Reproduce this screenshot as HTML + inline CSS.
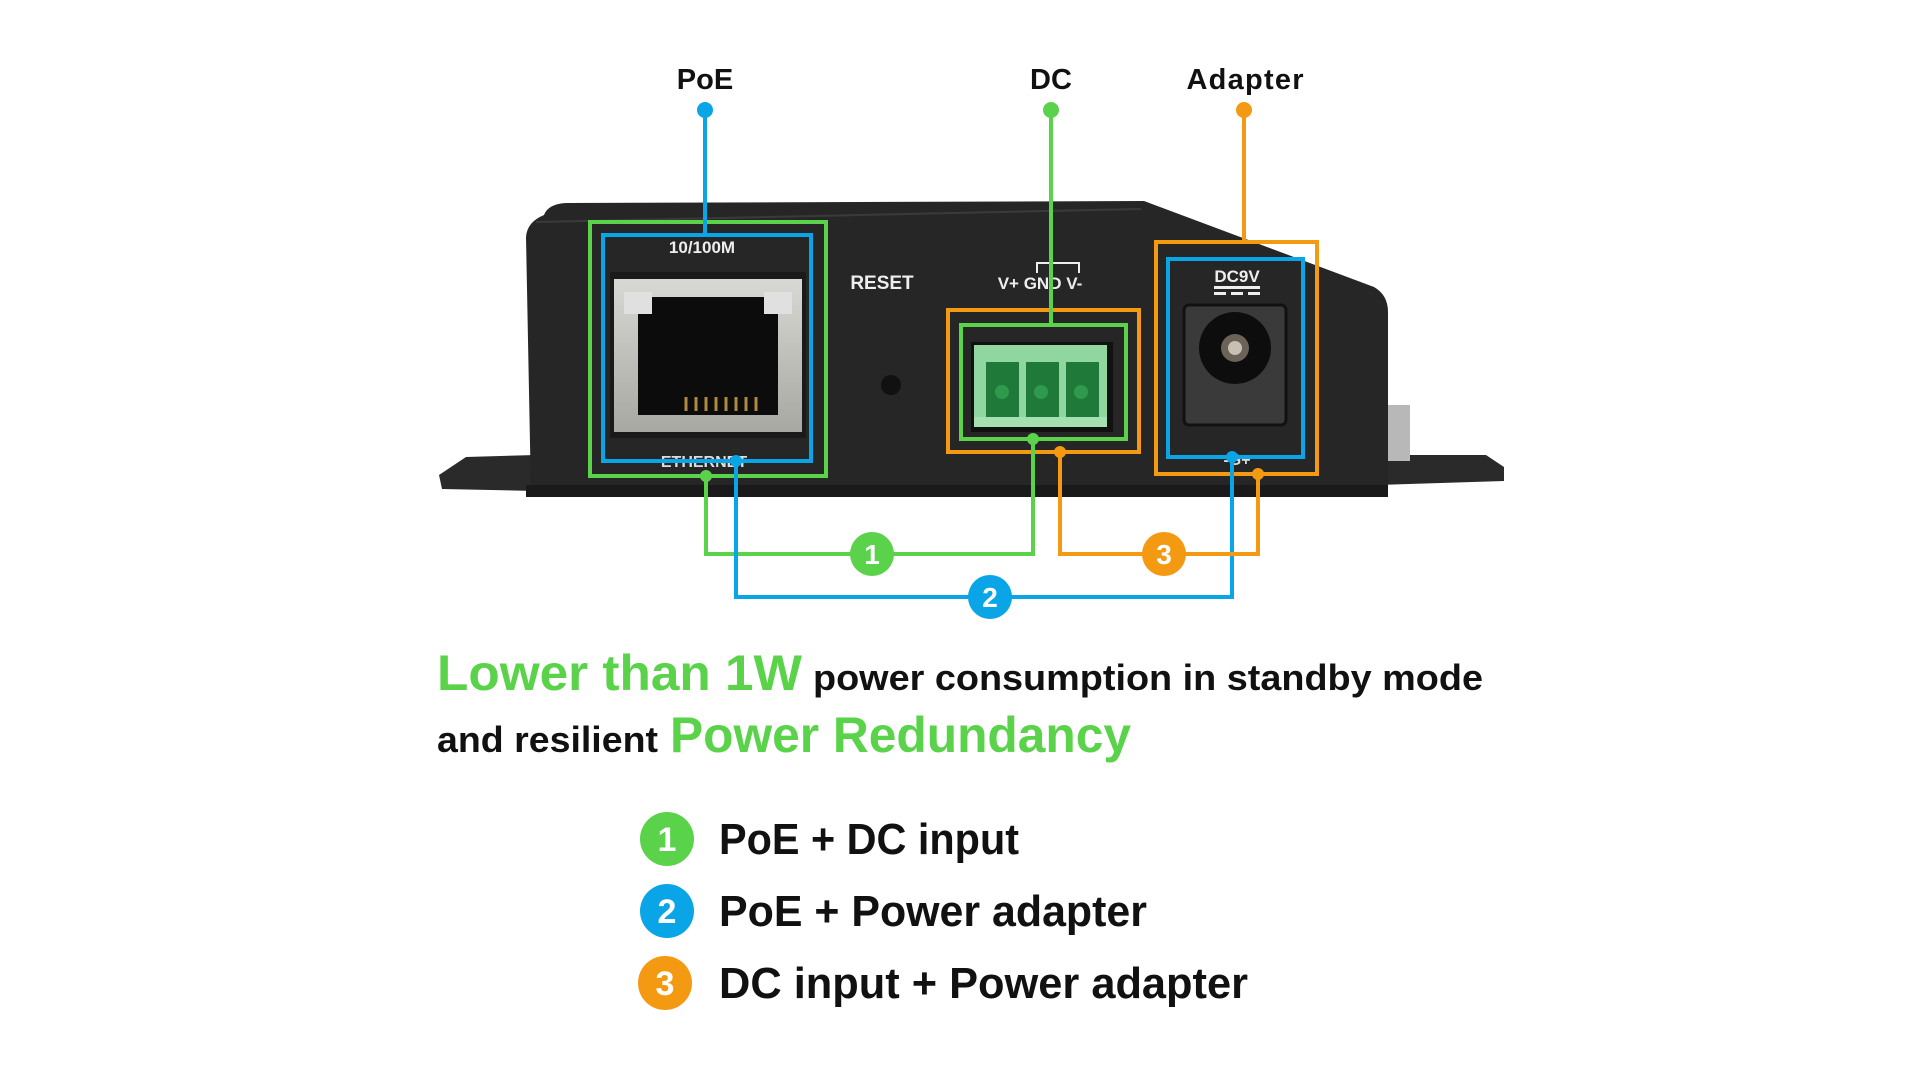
<!DOCTYPE html>
<html><head><meta charset="utf-8"><style>
html,body{margin:0;padding:0;background:#fff;width:1920px;height:1080px;overflow:hidden}
svg{display:block}
text{font-family:"Liberation Sans",sans-serif;font-weight:bold}
</style></head><body>
<svg width="1920" height="1080" viewBox="0 0 1920 1080" xmlns="http://www.w3.org/2000/svg">
<defs>
<linearGradient id="met" x1="0" y1="0" x2="0" y2="1"><stop offset="0" stop-color="#d8d8d4"/><stop offset="1" stop-color="#a8a8a2"/></linearGradient>
</defs>
<g transform="translate(-4,-3)">
<text x="709" y="92" font-size="29" text-anchor="middle" fill="#111">PoE</text>
<text x="1055" y="92" font-size="29" text-anchor="middle" fill="#111">DC</text>
<text x="1249" y="92" font-size="29" text-anchor="middle" fill="#111" textLength="117">Adapter</text>

<path d="M443 478 L470 460 L540 458 L540 494 L446 492 Z" fill="#2a2a2a"/>
<path d="M1380 458 L1490 458 L1508 470 L1508 484 L1380 488 Z" fill="#2a2a2a"/>
<rect x="1392" y="408" width="22" height="56" fill="#b8b8b8"/>
<path d="M548 218 Q552 207 570 206 L1148 204 L1378 290 Q1392 298 1392 315 L1392 490 L535 498 L530 240 Q531 225 548 218 Z" fill="#262626"/>
<path d="M540 225 L1145 212" stroke="#3a3a3a" stroke-width="2"/>
<rect x="530" y="488" width="862" height="12" fill="#1a1a1a"/>

<rect x="614" y="275" width="196" height="166" fill="#1a1a1a"/>
<rect x="618" y="282" width="188" height="153" fill="url(#met)"/>
<rect x="642" y="300" width="140" height="118" fill="#0c0c0c"/>
<rect x="628" y="295" width="28" height="22" fill="#e0e0e0"/>
<rect x="768" y="295" width="28" height="22" fill="#e0e0e0"/>
<g stroke="#b08a40" stroke-width="3">
<line x1="690" y1="400" x2="690" y2="414"/><line x1="700" y1="400" x2="700" y2="414"/><line x1="710" y1="400" x2="710" y2="414"/><line x1="720" y1="400" x2="720" y2="414"/><line x1="730" y1="400" x2="730" y2="414"/><line x1="740" y1="400" x2="740" y2="414"/><line x1="750" y1="400" x2="750" y2="414"/><line x1="760" y1="400" x2="760" y2="414"/>
</g>
<text x="706" y="256" font-size="17" text-anchor="middle" fill="#eee">10/100M</text>
<text x="708" y="470" font-size="16" text-anchor="middle" fill="#ddd">ETHERNET</text>
<text x="886" y="292" font-size="19" text-anchor="middle" fill="#eee">RESET</text>
<circle cx="895" cy="388" r="10" fill="#111"/>
<text x="1044" y="292" font-size="17" text-anchor="middle" fill="#eee">V+  GND V-</text>
<path d="M1041 276 L1041 266 L1083 266 L1083 276" stroke="#eee" stroke-width="2" fill="none"/>

<rect x="975" y="345" width="142" height="90" fill="#111"/>
<rect x="978" y="348" width="133" height="82" fill="#8fd6a0"/>
<rect x="990" y="365" width="33" height="58" fill="#1f7a3a"/>
<rect x="1030" y="365" width="33" height="58" fill="#1f7a3a"/>
<rect x="1070" y="365" width="33" height="58" fill="#1f7a3a"/>
<circle cx="1006" cy="395" r="7" fill="#2f9a4e"/><circle cx="1045" cy="395" r="7" fill="#2f9a4e"/><circle cx="1085" cy="395" r="7" fill="#2f9a4e"/>
<rect x="978" y="420" width="133" height="10" fill="#a4e0b0"/>

<text x="1241" y="285" font-size="17" text-anchor="middle" fill="#eee">DC9V</text>
<rect x="1218" y="289" width="46" height="3" fill="#eee"/>
<rect x="1218" y="295" width="12" height="3" fill="#eee"/><rect x="1235" y="295" width="12" height="3" fill="#eee"/><rect x="1252" y="295" width="12" height="3" fill="#eee"/>
<rect x="1188" y="308" width="102" height="120" rx="5" fill="#3a3a3a" stroke="#111" stroke-width="3"/>
<circle cx="1239" cy="351" r="36" fill="#0d0d0d"/>
<circle cx="1239" cy="351" r="14" fill="#6b6258"/>
<circle cx="1239" cy="351" r="7" fill="#c8c0b5"/>
<text x="1241" y="468" font-size="16" text-anchor="middle" fill="#ddd">-G+</text>

<g fill="none" stroke-width="4">
<rect x="594" y="225" width="236" height="254" stroke="#5ad24a"/>
<rect x="607" y="238" width="208" height="226" stroke="#0aa5e6"/>
<rect x="952" y="313" width="191" height="142" stroke="#f39a12"/>
<rect x="965" y="328" width="165" height="114" stroke="#5ad24a"/>
<rect x="1160" y="245" width="161" height="232" stroke="#f39a12"/>
<rect x="1172" y="262" width="135" height="198" stroke="#0aa5e6"/>
<line x1="709" y1="113" x2="709" y2="238" stroke="#0aa5e6"/>
<line x1="1055" y1="113" x2="1055" y2="328" stroke="#5ad24a"/>
<polyline points="1248,113 1248,245" stroke="#f39a12"/>
<polyline points="710,479 710,557 1037,557 1037,442" stroke="#5ad24a"/>
<polyline points="740,464 740,600 1236,600 1236,460" stroke="#0aa5e6"/>
<polyline points="1064,455 1064,557 1262,557 1262,477" stroke="#f39a12"/>
</g>
<circle cx="709" cy="113" r="8" fill="#0aa5e6"/>
<circle cx="1055" cy="113" r="8" fill="#5ad24a"/>
<circle cx="1248" cy="113" r="8" fill="#f39a12"/>
<circle cx="710" cy="479" r="6" fill="#5ad24a"/>
<circle cx="740" cy="464" r="6" fill="#0aa5e6"/>
<circle cx="1037" cy="442" r="6" fill="#5ad24a"/>
<circle cx="1064" cy="455" r="6" fill="#f39a12"/>
<circle cx="1236" cy="460" r="6" fill="#0aa5e6"/>
<circle cx="1262" cy="477" r="6" fill="#f39a12"/>
<circle cx="876" cy="557" r="22" fill="#5ad24a"/>
<text x="876" y="567" font-size="28" text-anchor="middle" fill="#fff">1</text>
<circle cx="994" cy="600" r="22" fill="#0aa5e6"/>
<text x="994" y="610" font-size="28" text-anchor="middle" fill="#fff">2</text>
<circle cx="1168" cy="557" r="22" fill="#f39a12"/>
<text x="1168" y="567" font-size="28" text-anchor="middle" fill="#fff">3</text>

<text x="441" y="693" font-size="50" fill="#5ad24a" textLength="365" lengthAdjust="spacingAndGlyphs">Lower than 1W</text>
<text x="817" y="693" font-size="36" fill="#111" textLength="670" lengthAdjust="spacingAndGlyphs">power consumption in standby mode</text>
<text x="441" y="755" font-size="36" fill="#111" textLength="221" lengthAdjust="spacingAndGlyphs">and resilient</text>
<text x="674" y="755" font-size="50" fill="#5ad24a" textLength="461" lengthAdjust="spacingAndGlyphs">Power Redundancy</text>

<circle cx="671" cy="842" r="27" fill="#5ad24a"/>
<text x="671" y="854" font-size="34" text-anchor="middle" fill="#fff">1</text>
<text x="723" y="857" font-size="44" fill="#111" textLength="300" lengthAdjust="spacingAndGlyphs">PoE + DC input</text>
<circle cx="671" cy="914" r="27" fill="#0aa5e6"/>
<text x="671" y="926" font-size="34" text-anchor="middle" fill="#fff">2</text>
<text x="723" y="929" font-size="44" fill="#111" textLength="428" lengthAdjust="spacingAndGlyphs">PoE + Power adapter</text>
<circle cx="669" cy="986" r="27" fill="#f39a12"/>
<text x="669" y="998" font-size="34" text-anchor="middle" fill="#fff">3</text>
<text x="723" y="1001" font-size="44" fill="#111" textLength="529" lengthAdjust="spacingAndGlyphs">DC input + Power adapter</text>
</g>
</svg>
</body></html>
